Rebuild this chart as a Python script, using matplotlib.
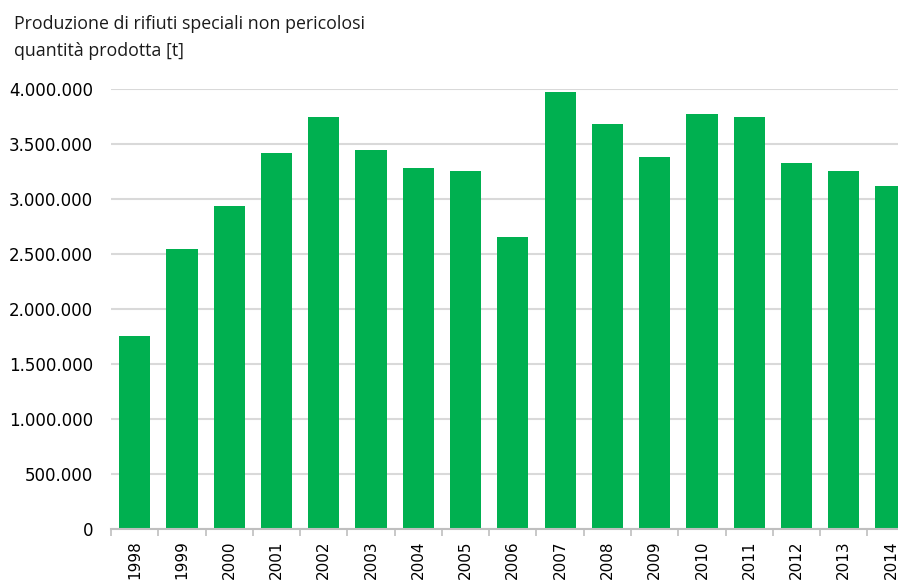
import matplotlib
matplotlib.use("Agg")
from matplotlib import pyplot as plt
from matplotlib.ticker import FuncFormatter, FixedLocator

years = ['1998', '1999', '2000', '2001', '2002', '2003', '2004', '2005', '2006',
         '2007', '2008', '2009', '2010', '2011', '2012', '2013', '2014']
values = [1755000, 2545000, 2934000, 3415000, 3745000, 3442000, 3279000, 3255000,
          2652000, 3973000, 3685000, 3385000, 3770000, 3748000, 3330000, 3251000, 3115000]

title = 'Produzione di rifiuti speciali non pericolosi\nquantità prodotta [t]'

fig = plt.figure(figsize=(8.98, 5.84), dpi=100)
# axes runs past the right edge, as in the reference (last bar is cut)
ax = fig.add_axes([0.1236, 0.0942, 0.895, 0.7534])

x = list(range(len(years)))
ax.bar(x, values, width=0.66, color='#00B050', zorder=3)

ax.set_xlim(-0.5, len(years) - 0.5)
ax.set_ylim(0, 4000000)
ax.set_yticks(range(0, 4000001, 500000))
ax.yaxis.set_major_formatter(FuncFormatter(lambda v, p: f'{int(v):,}'.replace(',', '.')))
ax.grid(axis='y', color='#d9d9d9', linewidth=1.5, zorder=0)
ax.tick_params(axis='y', length=0, labelsize=12, pad=13, colors='#000000')

# tick marks between categories, labels at centres
ax.xaxis.set_major_locator(FixedLocator([i - 0.5 for i in range(len(years) + 1)]))
ax.xaxis.set_major_formatter(FuncFormatter(lambda v, p: ''))
ax.xaxis.set_minor_locator(FixedLocator(x))
ax.set_xticklabels(years, minor=True, rotation=90, fontsize=11)
ax.tick_params(axis='x', which='major', length=5, color='#bfbfbf', width=1.2)
ax.tick_params(axis='x', which='minor', length=0, pad=8)

for s in ['top', 'right', 'left']:
    ax.spines[s].set_visible(False)
ax.spines['bottom'].set_color('#bfbfbf')
ax.spines['bottom'].set_linewidth(1.5)
ax.spines['bottom'].set_zorder(4)

fig.text(0.016, 0.974, title, ha='left', va='top', fontsize=12.8,
         family='Open Sans', color='#1a1a1a', linespacing=1.65)

fig.savefig('out.png', dpi=100)
